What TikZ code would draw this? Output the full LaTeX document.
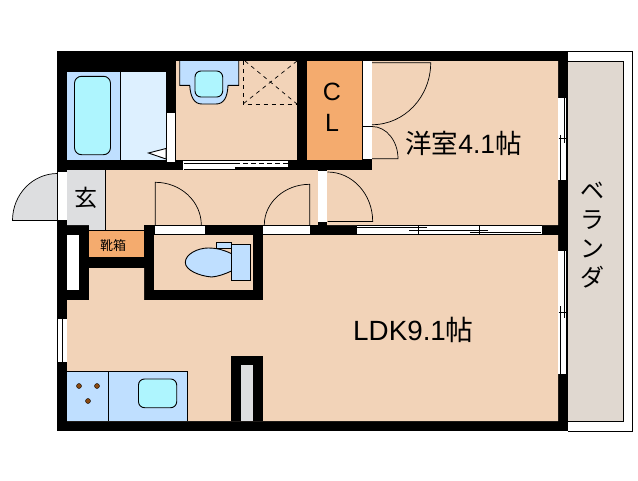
\documentclass[tikz,border=0pt]{standalone}
\usepackage{fontspec}
\setmainfont{Liberation Sans}
\newfontfamily\cjk{Noto Sans CJK JP}
\usetikzlibrary{calc}
\definecolor{floorbeige}{HTML}{F2D3B8}
\definecolor{closetorange}{HTML}{F4AB6E}
\definecolor{fixblue}{HTML}{BFDFFF}
\definecolor{basincyan}{HTML}{AEF5FE}
\definecolor{bathlight}{HTML}{DDF0FF}
\definecolor{entrygrey}{HTML}{DDDEE0}
\definecolor{balconytan}{HTML}{E0D8D0}
\definecolor{burnerbrown}{HTML}{8B4A10}
\tikzset{
    fixture/.style={draw=black,line width=0.9pt},
    swing/.style={draw=black,line width=0.7pt},
    track/.style={draw=black,line width=0.9pt},
    label/.style={inner sep=0pt,text=black},
}
\newcommand{\doorswing}[3]{\draw[swing] #1 -- #2 .. controls ($#2+0.5523*#3-0.5523*#1$) and ($#3+0.5523*#2-0.5523*#1$) .. #3;}
\begin{document}
\begin{tikzpicture}[x=1pt,y=-1pt]
    \useasboundingbox (0,0) rectangle (638,480);

    \draw[fixture,fill=white] (568,51.5) -- (632.5,51.5) -- (632.5,431) -- (568,431);
    \draw[fixture,fill=balconytan] (568,61) -- (623.7,61) -- (623.7,421.5) -- (568,421.5);
    \fill[entrygrey] (57.5,173.5) .. controls (32.5,173.5) and (12.5,194.5) .. (12.5,220.5) -- (57.5,220.5) -- cycle;
    \draw[swing] (57.5,173.5) .. controls (32.5,173.5) and (12.5,194.5) .. (12.5,220.5) -- (57.5,220.5);

    \fill[black] (57,51) rectangle (568,431);

    \fill[fixblue] (67,72) rectangle (120.3,160);
    \fill[bathlight] (120.3,72) rectangle (166,160);
    \draw[fixture] (120.3,72) -- (120.3,160);
    \draw[fixture,fill=basincyan,rounded corners=7pt] (74.5,76.3) rectangle (110.5,154.7);
    \draw[fixture,fill=white] (148.5,153) -- (166,148.5) -- (166,159) -- cycle;
    \fill[white] (166.5,112.7) rectangle (175,162);

    \fill[floorbeige] (176,61) rectangle (297,160);
    \draw[fixture,fill=fixblue] (179.7,61) -- (179.7,85.3) -- (189.7,85.3) .. controls (190.5,97) and (194,104) .. (202,104) -- (216,104) .. controls (224,104) and (227.5,97) .. (228,85.3) -- (238.7,85.3) -- (238.7,61);
    \draw[fixture,fill=basincyan,rounded corners=6pt] (195,71) rectangle (222.7,97);
    \draw[swing,dash pattern=on 4pt off 4pt] (243,61) -- (243,104.3) -- (297,104.3);
    \draw[swing,dash pattern=on 4pt off 4pt] (245,61) -- (297,104) (297,61) -- (243,104);

    \fill[closetorange] (307,61) rectangle (362,160);
    \fill[white] (362.7,61) rectangle (372,159);
    \fill[floorbeige] (372,61) -- (558,61) -- (558,225) -- (327,225) -- (327,170) -- (372,170) -- cycle;
    \fill[floorbeige] (105,170) rectangle (318,225);
    \fill[floorbeige] (105,225) rectangle (144,231);
    \fill[entrygrey] (67,170) -- (105.3,170) -- (105.3,231) -- (89,231) -- (89,225) -- (67,225) -- cycle;
    \draw[fixture] (105.3,170) -- (105.3,231);
    \fill[closetorange] (89,231) rectangle (144,257);
    \draw[fixture] (89,230.7) -- (144,230.7);
    \fill[white] (58,171.7) rectangle (66.5,220);
    \fill[white] (318.3,170.7) rectangle (327.3,221.7);

    \fill[floorbeige] (263,235) -- (558,235) -- (558,421) -- (67,421) -- (67,300) -- (89,300) -- (89,268) -- (144,268) -- (144,300) -- (263,300) -- cycle;
    \fill[floorbeige] (154,235) rectangle (253,290);
    \fill[white] (67,235) rectangle (79,290);
    \fill[black] (231,356) rectangle (263,421);
    \fill[entrygrey] (241,365) rectangle (253,421);

    \fill[white] (155,225.7) rectangle (205,234.5);
    \fill[white] (263,225.7) rectangle (310,234.5);
    \draw[swing] (155,225.5) -- (205,225.5) (155,234.7) -- (205,234.7);
    \draw[swing] (263,225.5) -- (310,225.5) (263,234.7) -- (310,234.7);

    \fill[white] (182.7,160.7) rectangle (288,166.7);
    \fill[white] (182.7,163.7) rectangle (235,168.5);
    \draw[track] (182.7,163.2) -- (235,163.2);
    \draw[track,dash pattern=on 5pt off 3pt] (235,163.2) -- (288,163.2);
    \draw[white] (182.7,160.5) -- (182.7,170);

    \fill[white] (356.7,225.3) rectangle (541.7,234.7);
    \draw[track] (357,225.5) -- (541.5,225.5) (357,234.5) -- (541.5,234.5);
    \draw[track] (357,227.3) -- (426.7,227.3) (409.3,230.3) -- (488.3,230.3) (470,232.7) -- (541,232.7);
    \draw[track] (418.3,225.5) -- (418.3,234.5) (479.3,225.5) -- (479.3,234.5);

    \fill[white] (558.3,98.3) rectangle (567,180);
    \draw[track] (566.5,98.3) -- (566.5,180) (564.5,98.3) -- (564.5,143) (560,135) -- (560,180) (558.5,138.5) -- (566,138.5);
    \fill[white] (558.3,251) rectangle (567,374.3);
    \draw[track] (566.5,251) -- (566.5,374.3) (564.5,251) -- (564.5,318) (560,306) -- (560,374.3) (558.5,312) -- (566,312);
    \fill[white] (57.5,319) rectangle (66.7,362);
    \draw[track] (57.5,319) -- (57.5,362) (62.5,319) -- (62.5,362);

    \doorswing{(372,62.7)}{(430.7,62.7)}{(372,124.7)}
    \doorswing{(372,158.7)}{(398,158.7)}{(372,126.5)}
    \draw[swing] (362,126) -- (372,126);
    \doorswing{(327.5,221.5)}{(372.7,221.5)}{(327.5,172)}
    \doorswing{(155.3,225)}{(155.3,182.3)}{(201.3,225)}
    \doorswing{(309.7,225)}{(309.7,184.3)}{(264.3,225)}

    \draw[fixture,fill=fixblue] (231.5,253.7) .. controls (224,250) and (217,248) .. (208,248) .. controls (198,248) and (185.3,254) .. (185.3,262.5) .. controls (185.3,270) and (199,276) .. (211.7,277) .. controls (218,276.5) and (225,274) .. (231.5,271) -- cycle;
    \draw[fixture,fill=fixblue] (216,242.3) rectangle (231,248.7);
    \draw[fixture,fill=fixblue] (231.5,244.3) rectangle (250.5,280.7);

    \fill[fixblue] (67,371.5) rectangle (187.5,421);
    \draw[fixture] (67,371.5) -- (187.5,371.5) -- (187.5,421) (108.5,371.5) -- (108.5,421);
    \draw[fixture,fill=basincyan,rounded corners=6pt] (138.5,379) rectangle (176.7,407.7);
    \foreach \bx/\by in {79/386,97/386,88/401}
        \draw[fill=burnerbrown,line width=0.4pt] (\bx,\by) circle (2.5pt);

    \node[label,font=\fontsize{25}{25}\selectfont] (closetc) at (332,92) {C};
    \node[label,font=\fontsize{25}{25}\selectfont] (closetl) at (332,123) {L};
    \node[label,font=\fontsize{26.5}{26.5}\selectfont] (westroom) at (463.5,143) {{\cjk 洋室}4.1{\cjk 帖}};
    \node[label,font=\fontsize{27.8}{27.8}\selectfont] (ldkroom) at (413.5,330) {LDK9.1{\cjk 帖}};
    \node[label,font=\fontsize{23}{23}\cjk] (entrance) at (86,198) {玄};
    \node[label,font=\fontsize{13}{13}\cjk] (shoebox) at (113,246) {靴箱};
    \node[label,font=\fontsize{24}{29}\cjk,align=center] (balcony) at (592,235) {ベ\\ラ\\ン\\ダ};
\end{tikzpicture}
\end{document}
